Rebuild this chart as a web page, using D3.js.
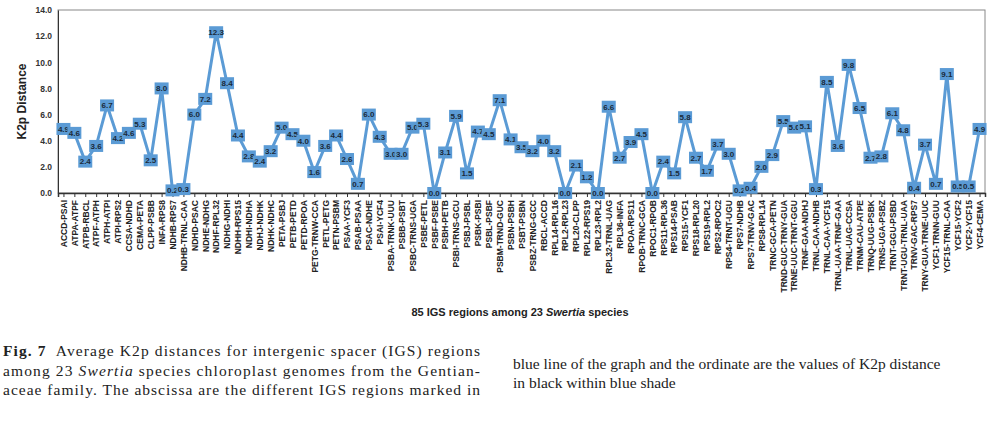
<!DOCTYPE html>
<html><head><meta charset="utf-8">
<script src="https://cdn.jsdelivr.net/npm/d3@7"></script>
<style>
body{margin:0;background:#fff;}
</style>
</head><body>
<script>
const regions = ["ACCD-PSAI","ATPA-ATPF","ATPB-RBCL","ATPF-ATPH","ATPH-ATPI","ATPI-RPS2","CCSA-NDHD","CEMA-PETA","CLPP-PSBB","INFA-RPS8",
"NDHB-RPS7","NDHB-TRNL-CAA","NDHD-PSAC","NDHE-NDHG","NDHF-RPL32","NDHG-NDHI","NDHH-RPS15","NDHI-NDHA","NDHJ-NDHK","NDHK-NDHC",
"PETA-PSBJ","PETB-PETD","PETD-RPOA","PETG-TRNW-CCA","PETL-PETG","PETN-PSBM","PSAA-YCF3","PSAB-PSAA","PSAC-NDHE","PSAI-YCF4",
"PSBA-TRNK-UUU","PSBB-PSBT","PSBC-TRNS-UGA","PSBE-PETL","PSBF-PSBE","PSBH-PETB","PSBI-TRNS-GCU","PSBJ-PSBL","PSBK-PSBI","PSBL-PSBF",
"PSBM-TRND-GUC","PSBN-PSBH","PSBT-PSBN","PSBZ-TRNG-GCC","RBCL-ACCD","RPL14-RPL16","RPL2-RPL23","RPL20-CLPP","RPL22-RPS19","RPL23-RPL2",
"RPL32-TRNL-UAG","RPL36-INFA","RPOA-RPS11","RPOB-TRNC-GCA","RPOC1-RPOB","RPS11-RPL36","RPS14-PSAB","RPS15-YCF1","RPS18-RPL20","RPS19-RPL2",
"RPS2-RPOC2","RPS4-TRNT-UGU","RPS7-NDHB","RPS7-TRNV-GAC","RPS8-RPL14","TRNC-GCA-PETN","TRND-GUC-TRNY-GUA","TRNE-UUC-TRNT-GGU","TRNF-GAA-NDHJ","TRNL-CAA-NDHB",
"TRNL-CAA-YCF15","TRNL-UAA-TRNF-GAA","TRNL-UAG-CCSA","TRNM-CAU-ATPE","TRNQ-UUG-PSBK","TRNS-UGA-PSBZ","TRNT-GGU-PSBD","TRNT-UGU-TRNL-UAA","TRNV-GAC-RPS7","TRNY-GUA-TRNE-UUC",
"YCF1-TRNN-GUU","YCF15-TRNL-CAA","YCF15-YCF2","YCF2-YCF15","YCF4-CEMA"];
const k2p = [4.9,4.6,2.4,3.6,6.7,4.2,4.6,5.3,2.5,8.0,
0.2,0.3,6.0,7.2,12.3,8.4,4.4,2.8,2.4,3.2,
5.0,4.5,4.0,1.6,3.6,4.4,2.6,0.7,6.0,4.3,
3.0,3.0,5.0,5.3,0.0,3.1,5.9,1.5,4.7,4.5,
7.1,4.1,3.5,3.2,4.0,3.2,0.0,2.1,1.2,0.0,
6.6,2.7,3.9,4.5,0.0,2.4,1.5,5.8,2.7,1.7,
3.7,3.0,0.2,0.4,2.0,2.9,5.5,5.0,5.1,0.3,
8.5,3.6,9.8,6.5,2.7,2.8,6.1,4.8,0.4,3.7,
0.7,9.1,0.5,0.5,4.9];
const yTicks = [0,2,4,6,8,10,12,14];

const W=998,H=434, L=58, R=985, T=10, B=193;
const svg=d3.select("body").append("svg").attr("width",W).attr("height",H);
const x=d3.scalePoint().domain(regions).range([L,R]).padding(0.5);
const y=d3.scaleLinear().domain([0,14]).range([B,T]);
const blue="#5b9bd5";
const sans="Liberation Sans, Arial, sans-serif";
const serif="Liberation Serif, Times New Roman, serif";

svg.append("rect").attr("x",L).attr("y",T).attr("width",R-L).attr("height",B-T)
  .attr("fill","none").attr("stroke","#888").attr("stroke-width",1);

const ya=svg.append("g").attr("transform",`translate(${L},0)`)
  .call(d3.axisLeft(y).tickValues(yTicks).tickFormat(d3.format(".1f")).tickSize(0).tickPadding(6));
ya.select(".domain").attr("stroke","#333");
ya.selectAll("text").attr("font-family",sans).attr("font-weight","bold").attr("font-size",8.5).attr("fill","#333");

const xa=svg.append("g").attr("transform",`translate(0,${B})`)
  .call(d3.axisBottom(x).tickSize(4).tickPadding(3));
xa.select(".domain").attr("stroke","#333").attr("stroke-width",1.5);
xa.selectAll("line").attr("stroke","#333");
xa.selectAll("text").attr("font-family",sans).attr("font-weight","bold").attr("font-size",8.5).attr("fill","#222")
  .attr("transform","rotate(-90)").attr("text-anchor","end").attr("x",-7).attr("y",0).attr("dy","0.33em");

svg.append("text").attr("transform",`translate(26,${(T+B)/2}) rotate(-90)`).attr("text-anchor","middle")
  .attr("font-family",sans).attr("font-weight","bold").attr("font-size",12).attr("fill","#222").text("K2p Distance");

svg.append("path").datum(k2p).attr("fill","none").attr("stroke",blue).attr("stroke-width",3)
  .attr("d",d3.line().x((d,i)=>x(regions[i])).y(d=>y(d)));

const pts=svg.append("g").selectAll("g").data(k2p).join("g")
  .attr("transform",(d,i)=>`translate(${x(regions[i])},${y(d)})`);
pts.append("rect").attr("x",-7).attr("y",-6).attr("width",14).attr("height",12).attr("fill",blue);
pts.append("text").attr("text-anchor","middle").attr("dy","0.35em")
  .attr("font-family",sans).attr("font-weight","bold").attr("font-size",8).attr("fill","#1a2a3a")
  .text(d=>d.toFixed(1));

const xt=svg.append("text").attr("x",520).attr("y",316).attr("text-anchor","middle")
  .attr("font-family",sans).attr("font-weight","bold").attr("font-size",11).attr("fill","#222");
xt.append("tspan").text("85 IGS regions among 23 ");
xt.append("tspan").attr("font-style","italic").text("Swertia");
xt.append("tspan").text(" species");

const left=[
  [{t:"Fig. 7",b:1},{t:"  Average K2p distances for intergenic spacer (IGS) regions"}],
  [{t:"among 23 "},{t:"Swertia",i:1},{t:" species chloroplast genomes from the Gentian-"}],
  [{t:"aceae family. The abscissa are the different IGS regions marked in"}]];
const right=["blue line of the graph and the ordinate are the values of K2p distance","in black within blue shade"];
left.forEach((ln,j)=>{
  const t=svg.append("text").attr("font-family",serif).attr("font-size",15.5).attr("fill","#222")
    .attr("x",3).attr("y",356+j*19.5).attr("textLength",477).attr("lengthAdjust","spacing");
  ln.forEach(s=>t.append("tspan").attr("font-weight",s.b?"bold":null).attr("font-style",s.i?"italic":null).attr("xml:space","preserve").text(s.t));
});
right.forEach((s,j)=>svg.append("text").attr("font-family",serif).attr("font-size",15.5).attr("fill","#222")
  .attr("x",513).attr("y",369+j*19).text(s));
</script>
</body></html>
